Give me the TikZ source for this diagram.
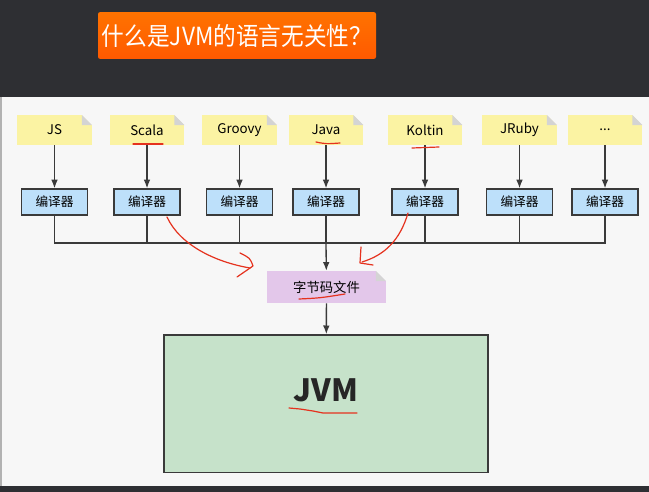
\documentclass[tikz,border=0pt]{standalone}
\usepackage{fontspec}
\setmainfont{Noto Sans CJK SC}
\usetikzlibrary{arrows, arrows.meta}
\usetikzlibrary{calc}

\definecolor{bandgray}{HTML}{2E2F33}
\definecolor{panelbg}{HTML}{F7F7F7}
\definecolor{noteyellow}{HTML}{FBF3A3}
\definecolor{foldgray}{HTML}{D4D4D4}
\definecolor{compblue}{HTML}{BDE0FA}
\definecolor{bytepurple}{HTML}{E3C7EA}
\definecolor{jvmgreen}{HTML}{C6E2CA}
\definecolor{linegray}{HTML}{3A3A3A}
\definecolor{penred}{HTML}{E5321E}

\tikzset{
  note/.style={fill=#1, inner sep=0pt, minimum width=56pt, minimum height=22.5pt, font=\fontsize{10}{12}\selectfont,
    path picture={
      \fill[panelbg] (path picture bounding box.north east) -- ++(-7.5pt,0) -- ++(7.5pt,-7.5pt) -- cycle;
      \fill[foldgray] ($(path picture bounding box.north east)+(-7.5pt,0)$) -- ++(0,-7.5pt) -- ++(7.5pt,0) -- cycle;
    }},
  note/.default=noteyellow,
  compiler/.style={draw=linegray, line width=1pt, fill=compblue, inner sep=0pt, minimum width=49.5pt, minimum height=19.5pt, font=\fontsize{9.5}{11}\selectfont},
  flow/.style={draw=linegray, line width=1pt, -{Latex[length=6.5pt,width=5pt]}},
  busline/.style={draw=linegray, line width=1pt},
  pen/.style={draw=penred, line width=0.9pt, line cap=round, line join=round}
}

\begin{document}
\begin{tikzpicture}[x=0.75pt, y=-0.75pt]
      \useasboundingbox (0,0) rectangle (649,492);
      \fill[bandgray] (0,0) rectangle (649,492);
      \fill[panelbg] (0,97) rectangle (649,486);
      \draw[gray!60, line width=1.5pt] (1,97) -- (1,486);

      \node[rounded corners=1.5pt, top color=orange!90!red, bottom color=orange!70!red, inner sep=0pt, minimum width=208.5pt, minimum height=35pt, text=white, font=\fontsize{17}{19}\selectfont] (title) at (237,35.5) {\scalebox{1}[1.1]{什么是JVM的语言无关性？}};

      \node[note] (js) at (54.5,130) {JS};
      \node[note] (scala) at (147,130) {Scala};
      \node[note] (groovy) at (239.5,130) {Groovy};
      \node[note] (java) at (326,130) {Java};
      \node[note] (koltin) at (425,130) {Koltin};
      \node[note] (jruby) at (519.5,130) {JRuby};
      \node[note] (more) at (605,130) {...};

      \node[compiler] (cjs) at (54.5,202) {编译器};
      \node[compiler] (cscala) at (147,202) {编译器};
      \node[compiler] (cgroovy) at (239.5,202) {编译器};
      \node[compiler] (cjava) at (326,202) {编译器};
      \node[compiler] (ckoltin) at (425,202) {编译器};
      \node[compiler] (cjruby) at (519.5,202) {编译器};
      \node[compiler] (cmore) at (605,202) {编译器};

      \draw[flow] (js) -- (cjs);
      \draw[flow] (scala) -- (cscala);
      \draw[flow] (groovy) -- (cgroovy);
      \draw[flow] (java) -- (cjava);
      \draw[flow] (koltin) -- (ckoltin);
      \draw[flow] (jruby) -- (cjruby);
      \draw[flow] (more) -- (cmore);

      \coordinate (busL) at (54.5,243);
      \coordinate (busR) at (605,243);
      \coordinate (busM) at (326,243);
      \draw[busline] (cjs) -- (busL) -- (busR) -- (cmore);
      \draw[busline] (cscala) -- (cscala |- busL);
      \draw[busline] (cgroovy) -- (cgroovy |- busL);
      \draw[busline] (cjava) -- (busM);
      \draw[busline] (ckoltin) -- (ckoltin |- busL);
      \draw[busline] (cjruby) -- (cjruby |- busL);

      \node[note=bytepurple, minimum width=89pt, minimum height=24pt] (bytecode) at (326.5,287) {字节码文件};
      \draw[flow] (busM) -- (bytecode);

      \node[draw=linegray, line width=1pt, fill=jvmgreen, minimum width=243pt, minimum height=103pt] (jvm) at (326,403.5) {};
      \node[font=\fontsize{23}{26}\selectfont\bfseries, text=black!85] (jvmtext) at (326,390) {JVM};
      \draw[flow] (bytecode) -- (jvm);

      % red pen marks
      \draw[pen] (133,144) -- (163,144);
      \draw[pen] (316,142) .. controls (326,144) .. (340,143);
      \draw[pen] (412,148) -- (439,147);
      \draw[pen] (299,299) .. controls (320,298) .. (345,294);
      \draw[pen] (289,408) -- (300,409) -- (313,411) -- (323,413) -- (357,413);
      \draw[pen] (167,217) .. controls (180,245) and (215,262) .. (250,268);
      \draw[pen] (240,253) .. controls (250,258) .. (253,266) -- (237,277);
      \draw[pen] (408,213) .. controls (400,240) and (385,255) .. (362,262);
      \draw[pen] (361,247) -- (360,263) -- (373,265);
    \end{tikzpicture}
\end{document}
